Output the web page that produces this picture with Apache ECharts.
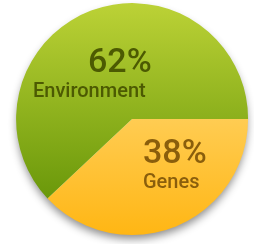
<!DOCTYPE html>
<html>
<head>
<meta charset="utf-8">
<script src="https://cdn.jsdelivr.net/npm/echarts@6/dist/echarts.min.js"></script>
<style>
  html, body { margin: 0; padding: 0; background: #fff; }
  #main { width: 254px; height: 244px; }
</style>
</head>
<body>
<div id="main"></div>
<script>
let categories = ["Genes", "Environment"];
let values = [38, 62];

let sliceColors = [
  ["#ffcc52", "#ffb614"],
  ["#bcd236", "#6a980a"],
];
let textColors = ["#8a5e0c", "#4c5a02"];

let myChart = echarts.init(document.getElementById("main"), null, {
  renderer: "canvas",
});

let option = {
  animation: false,
  series: [
    // shadow under the ball
    {
      type: "pie",
      silent: true,
      center: ["52%", "48.8%"],
      radius: 115,
      label: { show: false },
      itemStyle: {
        color: "#fff",
        shadowBlur: 8,
        shadowOffsetY: 5,
        shadowColor: "rgba(0,0,0,0.45)",
      },
      data: [1],
      z: 1,
    },
    {
      type: "pie",
      center: ["52%", "48.8%"],
      radius: 116,
      startAngle: 0,
      clockwise: true,
      z: 2,
      label: {
        show: true,
        position: "inside",
        align: "left",
        fontFamily: "Roboto",
        formatter: (p) => `{a|${p.value}%}\n{b|${p.name}}`,
      },
      labelLine: { show: false },
      // put the two text blocks where the original has them
      labelLayout: (params) => {
        if (params.dataIndex === 0) {
          return { x: 143, y: 166, align: "left", verticalAlign: "middle" };
        }
        return { x: 33, y: 75, align: "left", verticalAlign: "middle" };
      },
      data: categories.map((c, i) => ({
        name: c,
        value: values[i],
        itemStyle: {
          color: new echarts.graphic.LinearGradient(0, 0, 0, 1, [
            { offset: 0, color: sliceColors[i][0] },
            { offset: 1, color: sliceColors[i][1] },
          ]),
        },
        label: {
          rich: {
            a: {
              fontFamily: "Roboto",
              fontSize: 34,
              lineHeight: 34,
              fontWeight: 500,
              color: textColors[i],
              padding: i === 1 ? [0, 0, 0, 55] : [0, 0, 0, 0],
            },
            b: {
              fontFamily: "Roboto",
              fontSize: 20,
              lineHeight: 24,
              fontWeight: 500,
              color: textColors[i],
            },
          },
        },
      })),
    },
  ],
};

myChart.setOption(option);
</script>
</body>
</html>
